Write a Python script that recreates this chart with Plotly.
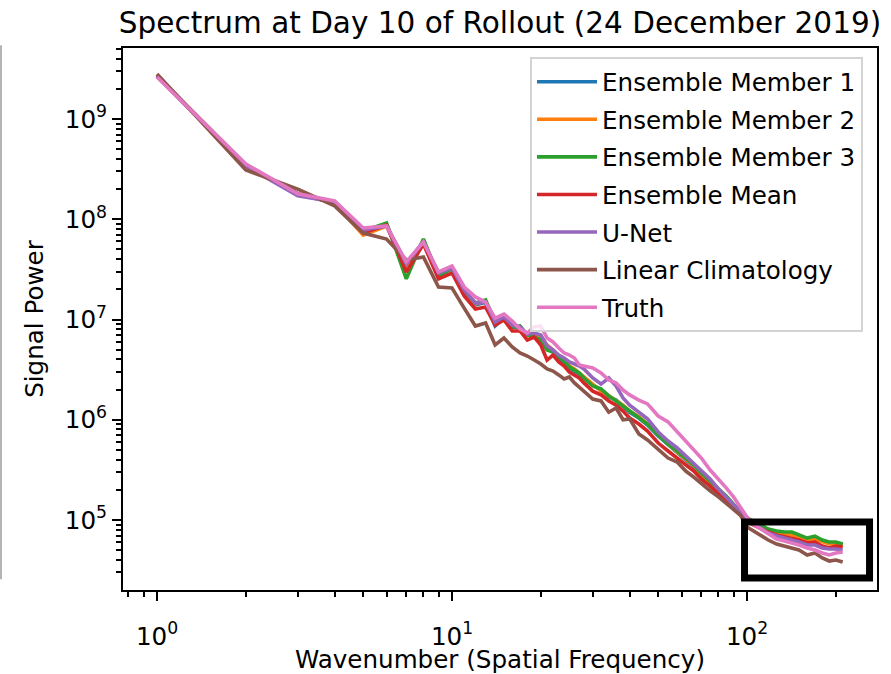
import plotly.graph_objects as go

wavenumber = [1, 2, 3, 4, 5, 6, 7, 8, 9, 10, 11, 12, 13, 14, 15, 16, 17, 18, 19, 20,
              21, 22, 23, 24, 25, 26, 27, 28, 30, 32, 34, 36, 38, 40,
              43, 46, 50, 54, 58, 62, 66, 70, 75, 80, 85, 90, 95, 100,
              105, 110, 118, 126, 134, 142, 150, 160, 170, 180, 190, 200, 211]

member1 = [2.69e9, 3.48e8, 1.79e8, 1.45e8, 7.64e7, 8.76e7, 3.42e7, 6.07e7, 2.78e7, 3.26e7,
           1.88e7, 1.40e7, 1.49e7, 8.61e6, 1.03e7, 8.42e6, 8.23e6, 7.00e6, 6.85e6, 6.54e6,
           5.08e6, 4.74e6, 4.04e6, 3.77e6, 3.28e6, 3.06e6, 2.86e6, 2.61e6,
           2.22e6, 1.98e6, 1.69e6, 1.57e6, 1.37e6, 1.19e6,
           1.04e6, 8.86e5, 6.88e5, 5.60e5, 4.66e5, 3.97e5, 3.38e5, 2.81e5, 2.34e5, 1.95e5, 1.66e5, 1.38e5, 1.17e5, 1.02e5,
           9.33e4, 8.71e4, 7.95e4, 7.59e4, 7.42e4, 7.25e4, 6.92e4, 6.46e4, 6.61e4, 6.17e4, 5.90e4, 5.90e4, 5.63e4]

member2 = [2.69e9, 3.48e8, 1.79e8, 1.45e8, 6.96e7, 8.56e7, 3.26e7, 5.93e7, 2.78e7, 3.26e7,
           1.88e7, 1.43e7, 1.53e7, 9.23e6, 1.03e7, 8.61e6, 8.42e6, 6.85e6, 7.17e6, 6.85e6,
           5.57e6, 4.96e6, 4.32e6, 3.94e6, 3.44e6, 3.21e6, 2.93e6, 2.67e6,
           2.22e6, 1.93e6, 1.73e6, 1.54e6, 1.40e6, 1.22e6,
           1.07e6, 9.07e5, 7.04e5, 5.73e5, 4.77e5, 4.06e5, 3.46e5, 2.88e5, 2.39e5, 1.99e5, 1.70e5, 1.41e5, 1.20e5, 1.02e5,
           9.33e4, 8.71e4, 7.95e4, 7.42e4, 7.25e4, 7.08e4, 6.77e4, 6.32e4, 6.46e4, 6.03e4, 5.76e4, 5.76e4, 5.50e4]

member3 = [2.69e9, 3.48e8, 1.79e8, 1.49e8, 7.64e7, 9.18e7, 2.54e7, 6.35e7, 2.72e7, 3.19e7,
           1.92e7, 1.46e7, 1.57e7, 9.44e6, 1.03e7, 8.42e6, 8.61e6, 7.00e6, 6.69e6, 6.24e6,
           4.96e6, 4.74e6, 4.23e6, 3.85e6, 3.36e6, 3.13e6, 2.93e6, 2.61e6,
           2.17e6, 2.03e6, 1.73e6, 1.54e6, 1.37e6, 1.22e6,
           1.07e6, 9.07e5, 7.04e5, 5.73e5, 4.88e5, 4.15e5, 3.54e5, 2.94e5, 2.45e5, 2.04e5, 1.74e5, 1.44e5, 1.23e5, 1.05e5,
           9.77e4, 9.12e4, 8.13e4, 7.77e4, 7.59e4, 7.59e4, 7.08e4, 6.61e4, 6.92e4, 6.32e4, 6.03e4, 6.03e4, 5.76e4]

ensemble_mean = [2.69e9, 3.48e8, 1.79e8, 1.45e8, 7.29e7, 8.76e7, 2.98e7, 5.66e7, 2.54e7, 2.91e7,
                 1.72e7, 1.27e7, 1.33e7, 8.81e6, 9.89e6, 7.68e6, 7.68e6, 6.24e6, 6.69e6, 5.57e6,
                 3.94e6, 4.42e6, 3.77e6, 3.44e6, 2.99e6, 2.80e6, 2.61e6, 2.33e6,
                 1.93e6, 1.77e6, 1.54e6, 1.40e6, 1.22e6, 1.04e6,
                 9.07e5, 7.72e5, 5.86e5, 4.88e5, 4.15e5, 3.54e5, 3.08e5, 2.56e5, 2.18e5, 1.82e5, 1.55e5, 1.29e5, 1.12e5, 9.77e4,
                 8.92e4, 8.32e4, 7.59e4, 7.08e4, 6.77e4, 6.61e4, 6.32e4, 5.90e4, 6.03e4, 5.50e4, 5.26e4, 5.50e4, 5.38e4]

unet = [2.69e9, 3.40e8, 1.71e8, 1.49e8, 7.81e7, 8.56e7, 3.58e7, 5.93e7, 2.91e7, 3.26e7,
        1.97e7, 1.46e7, 1.49e7, 9.44e6, 1.06e7, 8.81e6, 8.42e6, 7.17e6, 7.33e6, 7.00e6,
        5.44e6, 4.96e6, 4.42e6, 4.13e6, 3.77e6, 3.60e6, 3.44e6, 3.21e6,
        2.61e6, 2.27e6, 2.61e6, 2.17e6, 1.65e6, 1.40e6,
        1.19e6, 1.02e6, 7.55e5, 6.14e5, 5.23e5, 4.35e5, 3.71e5, 3.08e5, 2.56e5, 2.04e5, 1.70e5, 1.41e5, 1.20e5, 1.00e5,
        9.12e4, 8.52e4, 7.42e4, 6.92e4, 6.61e4, 6.32e4, 6.03e4, 5.63e4, 5.63e4, 5.26e4, 5.14e4, 5.14e4, 5.02e4]

linear_climatology = [2.81e9, 3.10e8, 2.00e8, 1.36e8, 7.29e7, 6.35e7, 3.92e7, 4.20e7, 2.11e7, 2.06e7,
                      1.30e7, 8.61e6, 9.23e6, 5.57e6, 6.54e6, 5.32e6, 4.63e6, 4.32e6, 3.94e6, 3.60e6,
                      3.21e6, 3.06e6, 2.80e6, 2.55e6, 2.67e6, 2.33e6, 2.12e6, 1.93e6,
                      1.61e6, 1.54e6, 1.19e6, 1.31e6, 1.00e6, 1.02e6,
                      7.21e5, 6.28e5, 5.11e5, 4.15e5, 3.79e5, 3.08e5, 2.68e5, 2.29e5, 1.95e5, 1.70e5, 1.48e5, 1.29e5, 1.12e5, 8.52e4,
                      7.77e4, 7.08e4, 6.32e4, 5.76e4, 5.50e4, 5.26e4, 5.02e4, 4.48e4, 4.69e4, 4.18e4, 3.90e4, 3.99e4, 3.81e4]

truth = [2.62e9, 3.56e8, 1.79e8, 1.52e8, 8.18e7, 8.56e7, 3.75e7, 5.93e7, 2.98e7, 3.42e7,
         2.11e7, 1.68e7, 1.49e7, 1.03e7, 1.13e7, 9.66e6, 8.04e6, 7.33e6, 8.42e6, 8.61e6,
         6.54e6, 5.97e6, 5.20e6, 4.63e6, 4.42e6, 4.13e6, 3.52e6, 3.44e6,
         3.28e6, 2.93e6, 2.49e6, 2.33e6, 1.98e6, 1.77e6,
         1.57e6, 1.44e6, 1.09e6, 9.52e5, 7.55e5, 6.00e5, 4.99e5, 4.15e5, 3.15e5, 2.56e5, 2.09e5, 1.70e5, 1.35e5, 1.07e5,
         9.12e4, 8.32e4, 7.25e4, 6.46e4, 6.17e4, 5.90e4, 5.63e4, 5.26e4, 5.02e4, 4.69e4, 4.48e4, 4.69e4, 4.79e4]

series_names = ["Ensemble Member 1", "Ensemble Member 2", "Ensemble Member 3",
                "Ensemble Mean", "U-Net", "Linear Climatology", "Truth"]
series_values = [member1, member2, member3, ensemble_mean, unet, linear_climatology, truth]
series_colors = ["#1f77b4", "#ff7f0e", "#2ca02c", "#d62728", "#9467bd", "#8c564b", "#e377c2"]

x_major = [1, 10, 100]
x_major_text = ["10<sup>0</sup>", "10<sup>1</sup>", "10<sup>2</sup>"]
x_minor = [0.8, 0.9] + [m * d for d in (1, 10) for m in range(2, 10)] + [200]
y_major = [1e5, 1e6, 1e7, 1e8, 1e9]
y_major_text = ["10<sup>5</sup>", "10<sup>6</sup>", "10<sup>7</sup>", "10<sup>8</sup>", "10<sup>9</sup>"]
y_minor = [m * d for d in (1e4, 1e5, 1e6, 1e7, 1e8, 1e9) for m in range(2, 10)]

FONT = "DejaVu Sans"

fig = go.Figure()
for i, (name, vals, col) in enumerate(zip(series_names, series_values, series_colors)):
    fig.add_trace(go.Scatter(x=wavenumber, y=vals, mode="lines", name=name,
                             legendgroup=f"g{i}",
                             line=dict(color=col, width=3.6)))

axis_common = dict(
    type="log", showgrid=False, zeroline=False,
    showline=True, mirror=True, linecolor="black", linewidth=2,
    ticks="outside", ticklen=9, tickwidth=2, tickcolor="black",
    tickfont=dict(family=FONT, size=24.6, color="black"),
)

fig.update_xaxes(
    **axis_common,
    range=[-0.1153, 2.4407],
    tickmode="array", tickvals=x_major, ticktext=x_major_text,
    ticklabelstandoff=14,
    minor=dict(tickmode="array", tickvals=x_minor, ticks="outside", ticklen=5,
               tickwidth=1.5, tickcolor="black", showgrid=False),
    title=dict(text="Wavenumber (Spatial Frequency)", font=dict(family=FONT, size=24.6, color="black"),
               standoff=9),
)
fig.update_yaxes(
    **axis_common,
    range=[4.302, 9.708],
    tickmode="array", tickvals=y_major, ticktext=y_major_text,
    minor=dict(tickmode="array", tickvals=y_minor, ticks="outside", ticklen=5,
               tickwidth=1.5, tickcolor="black", showgrid=False),
    title=dict(text="Signal Power", font=dict(family=FONT, size=24.6, color="black"),
               standoff=14),
)

fig.update_layout(
    width=891, height=674,
    margin=dict(l=123, r=14, t=48, b=84, autoexpand=False),
    paper_bgcolor="white", plot_bgcolor="white",
    title=dict(text="Spectrum at Day 10 of Rollout (24 December 2019)",
               font=dict(family=FONT, size=29.5, color="black"),
               x=0.5, xref="paper", xanchor="center",
               y=1 - 23 / 674, yref="container", yanchor="middle"),
    legend=dict(x=0.5398, xanchor="left", y=0.983, yanchor="top",
                bgcolor="rgba(255,255,255,0.8)", bordercolor="#d3d3d3", borderwidth=2,
                font=dict(family=FONT, size=24.6, color="black"),
                itemwidth=60, tracegroupgap=2.6),
    showlegend=True,
    shapes=[
        dict(type="rect", xref="paper", yref="paper",
             x0=0.8243, x1=0.9901, y0=0.0221, y1=0.1255,
             line=dict(color="black", width=7), fillcolor="rgba(0,0,0,0)"),
        dict(type="line", xref="paper", yref="paper",
             x0=-0.1618, x1=-0.1618, y0=0.02, y1=1.005,
             line=dict(color="#b4b4b4", width=2)),
    ],
)

fig.write_html("out.html")
